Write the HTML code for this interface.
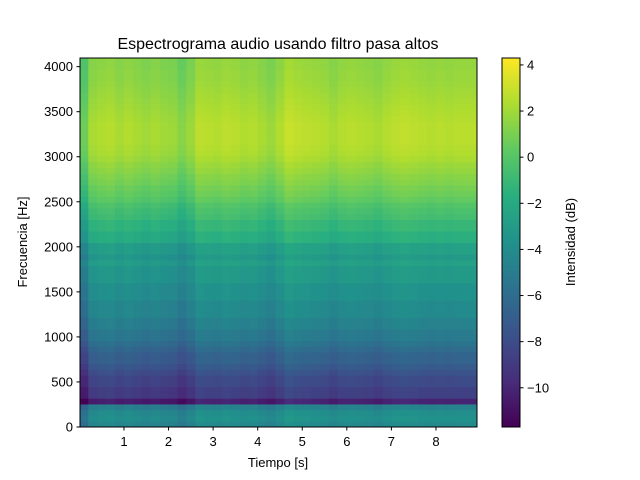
<!DOCTYPE html>
<html><head><meta charset="utf-8"><style>
body{margin:0;background:#fff}
svg{display:block;font-family:"Liberation Sans","DejaVu Sans",sans-serif}
</style></head><body>
<svg id="c" width="640" height="480" viewBox="0 0 640 480">
<defs>
<clipPath id="pc"><rect x="80" y="58" width="397" height="369"/></clipPath>
<linearGradient id="vg" x1="0" y1="1" x2="0" y2="0">
<stop offset="0" stop-color="#440154"/><stop offset="0.125" stop-color="#472d7b"/><stop offset="0.25" stop-color="#3b528b"/><stop offset="0.375" stop-color="#2c728e"/><stop offset="0.5" stop-color="#21918c"/><stop offset="0.625" stop-color="#28ae80"/><stop offset="0.75" stop-color="#5ec962"/><stop offset="0.875" stop-color="#addc30"/><stop offset="1" stop-color="#fde725"/>
</linearGradient>
</defs>
<text x="278" y="49" font-size="16" text-anchor="middle">Espectrograma audio usando filtro pasa altos</text>
<g id="cells" clip-path="url(#pc)"></g>
<rect x="80" y="58" width="397" height="369" fill="none" stroke="#000" stroke-width="1"/>
<g id="xt"></g>
<g id="yt"></g>
<text x="278" y="467" font-size="13" text-anchor="middle">Tiempo [s]</text>
<text transform="translate(27,242) rotate(-90)" font-size="13" text-anchor="middle">Frecuencia [Hz]</text>
<rect x="502" y="58" width="18" height="369" fill="url(#vg)" stroke="#000" stroke-width="1"/>
<g id="ct"></g>
<text transform="translate(575,242) rotate(-90)" font-size="13" text-anchor="middle">Intensidad (dB)</text>
</svg>
<script>
// frequency profile (dB), 64 Hz bins from 0 Hz upward
const freqProfile=[-4.5,-4,-4.2,-5,-10.5,-9,-9,-8.5,-8.5,-8,-7.5,-7,-7,-6.5,-6,-5.5,-5.5,-5,-5,-4.5,-4.5,-4.5,-4,-4,-4,-3.5,-3.5,-3.5,-3,-3.5,-3,-3,-2,-2,-1.5,-1.5,-1,-0.8,-0.5,0,0.3,0.5,0.8,1,1.3,1.5,1.8,2,2.1,2.2,2.2,2.2,2.2,2.1,2,1.9,1.8,1.7,1.6,1.5,1.4,1.4,1.3,1.3];
// time offsets (dB), 0.2 s bins
const timeOffset=[-1.5,0,0.2,0.3,0,0.2,0,-0.2,0,-0.2,-0.3,-0.8,-0.3,0.5,0.4,0.3,0.5,0.4,0.2,0.3,0,-0.3,0.2,0.8,0.6,0.5,0.4,0.3,0,0.3,0.4,0.3,0.2,0,0.3,0.5,0.6,0.5,0.4,0.3,0.4,0.3,0.4,0.4,0.4];
const xTicks=[1,2,3,4,5,6,7,8];
const yTicks=[0,500,1000,1500,2000,2500,3000,3500,4000];
const cTicks=[-10,-8,-6,-4,-2,0,2,4];
const fBin=64,tBin=0.2,vmin=-11.7,vmax=4.3;
const X=t=>79.4+t*44.57, Y=f=>427-f*(369/4096), C=v=>427-(v-vmin)/(vmax-vmin)*369;
const stops=[[68,1,84],[71,45,123],[59,82,139],[44,114,142],[33,145,140],[40,174,128],[94,201,98],[173,220,48],[253,231,37]];
function vir(v){let u=Math.max(0,Math.min(1,(v-vmin)/(vmax-vmin)))*8,i=Math.min(7,Math.floor(u)),f=u-i,a=stops[i],b=stops[i+1];
return `rgb(${a.map((x,k)=>Math.round(x+(b[k]-x)*f)).join(',')})`;}
const NS='http://www.w3.org/2000/svg';
function mk(tag,at,p){const e=document.createElementNS(NS,tag);for(const k in at)e.setAttribute(k,at[k]);p.appendChild(e);return e;}
const g=document.getElementById('cells');
timeOffset.forEach((to,j)=>{freqProfile.forEach((fv,i)=>{
const x0=X(j*tBin),x1=X((j+1)*tBin),y0=Y((i+1)*fBin),y1=Y(i*fBin);
const r=mk('rect',{x:x0,y:y0,width:x1-x0+0.5,height:y1-y0+0.5,fill:vir(fv+to)},g);


});});
const xt=document.getElementById('xt');
xTicks.forEach(t=>{const x=X(t);
const l=mk('line',{x1:x,x2:x,y1:427,y2:430.5,stroke:'#000'},xt);


const s=mk('text',{x:x,y:446,'font-size':13,'text-anchor':'middle'},xt);s.textContent=t;

});
const yt=document.getElementById('yt');
yTicks.forEach(f=>{const y=Y(f);
const l=mk('line',{x1:76.5,x2:80,y1:y,y2:y,stroke:'#000'},yt);


const s=mk('text',{x:73,y:y+4.5,'font-size':13,'text-anchor':'end'},yt);s.textContent=f;

});
const ct=document.getElementById('ct');
cTicks.forEach(v=>{const y=C(v);
const l=mk('line',{x1:520,x2:523.5,y1:y,y2:y,stroke:'#000'},ct);


const s=mk('text',{x:527,y:y+4.5,'font-size':13},ct);s.textContent=v<0?'\u2212'+(-v):v;

});
</script>
</body></html>
